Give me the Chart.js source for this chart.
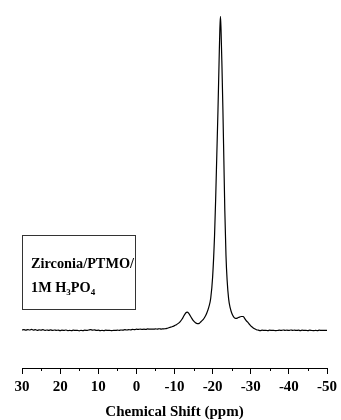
<!DOCTYPE html>
<html>
<head>
<meta charset="utf-8">
<script src="https://cdn.jsdelivr.net/npm/chart.js@4"></script>
<style>
    html, body { margin: 0; padding: 0; background: #fff; }
    #wrap { position: relative; width: 341px; height: 420px; }
    #sampleBox {
        position: absolute; left: 22px; top: 235px; width: 112px; height: 73px;
        border: 1px solid #333; color: #000;
        font: bold 14.3px "Liberation Serif", "Times New Roman", serif;
    }
    #sampleBox div { position: absolute; left: 8px; line-height: 16px; white-space: nowrap; }
    #sampleBox sub { font-size: 9px; vertical-align: -3px; line-height: 0; }
</style>
</head>
<body>
<div id="wrap">
    <canvas id="nmrChart" width="341" height="420"></canvas>
    <div id="sampleBox">
        <div style="top: 19px;">Zirconia/PTMO/</div>
        <div style="top: 43px;">1M H<sub>3</sub>PO<sub>4</sub></div>
    </div>
</div>
<script>
// chemical shift (ppm) and intensity (peak = 100)
const shiftPpm = [
    30, 29.5, 29, 28.5, 28, 27.5, 27, 26.5, 26, 25.5, 25, 24.5, 24, 23.5, 23, 22.5, 22, 21.5, 21, 20.5,
    20, 19.5, 19, 18.5, 18, 17.5, 17, 16.5, 16, 15.5, 15, 14.5, 14, 13.5, 13, 12.5, 12, 11.5, 11, 10.5,
    10, 9.5, 9, 8.5, 8, 7.5, 7, 6.5, 6, 5.5, 5, 4.5, 4, 3.5, 3, 2.5, 2, 1.5, 1, 0.5,
    0, -0.5, -1, -1.5, -2, -2.5, -3, -3.5, -4, -4.5, -5, -5.5, -6, -6.5, -7, -7.5, -8, -8.5, -9, -9.5,
    -10, -10.5, -11, -11.5, -12, -12.5, -13, -13.3, -13.7, -14, -14.5, -15, -15.5, -16, -16.5,
    -17, -17.5, -18, -18.5, -19, -19.5, -20, -20.5, -20.8, -21.1, -21.4, -21.7, -21.9, -22.05,
    -22.2, -22.45, -22.7, -22.95, -23.2, -23.5, -23.8, -24.2, -24.6, -25, -25.5, -26, -26.5,
    -27, -27.5, -28, -28.4, -28.8, -29.2, -29.6, -30, -30.5, -31, -31.5,
    -32, -32.5, -33, -33.5, -34, -34.5, -35, -35.5, -36, -36.5, -37, -37.5, -38, -38.5, -39, -39.5,
    -40, -40.5, -41, -41.5, -42, -42.5, -43, -43.5, -44, -44.5, -45, -45.5, -46, -46.5, -47, -47.5,
    -48, -48.5, -49, -49.5, -50
];
const intensity = [
    0.1, 0.2, 0.05, 0.25, 0.1, 0.3, 0.05, 0.2, 0.0, 0.15, 0.05, 0.2, -0.05, 0.1, 0.0, 0.15, -0.05, 0.1, 0.0, 0.05,
    -0.1, 0.05, -0.05, 0.1, -0.1, 0.0, -0.1, 0.05, -0.05, 0.0, -0.15, 0.0, -0.1, 0.05, -0.05, 0.1, 0.2, 0.05, 0.15, -0.05,
    0.05, -0.1, 0.0, -0.1, 0.05, -0.05, 0.0, -0.1, 0.0, -0.05, 0.05, 0.0, 0.1, 0.05, 0.2, 0.1, 0.2, 0.15, 0.3, 0.2,
    0.35, 0.3, 0.4, 0.3, 0.35, 0.3, 0.45, 0.35, 0.4, 0.35, 0.45, 0.4, 0.5, 0.4, 0.45, 0.5, 0.6, 0.8, 1.0, 1.2,
    1.5, 1.8, 2.2, 2.8, 3.6, 4.7, 5.6, 5.8, 5.5, 4.9, 3.9, 3.0, 2.4, 2.1, 2.2,
    2.8, 3.4, 4.3, 5.6, 7.4, 10.2, 17, 30, 42, 56, 70, 86, 96, 100,
    96, 84, 70, 54, 38, 24, 16, 10, 7.2, 5.5, 4.3, 3.8, 3.9,
    4.2, 4.4, 4.4, 3.8, 3.1, 2.6, 2.0, 1.4, 0.9, 0.5, 0.2,
    0.05, -0.1, 0.05, -0.05, 0.0, -0.1, 0.05, -0.05, 0.0, -0.1, -0.05, 0.05, -0.05, 0.1, 0.0, 0.05,
    -0.05, 0.1, 0.0, 0.05, -0.05, 0.05, -0.1, 0.05, -0.05, 0.0, -0.1, 0.05, -0.05, -0.1, 0.0, -0.1,
    0.05, -0.05, 0.0, -0.05, 0.0
];
const majorTicks = [30, 20, 10, 0, -10, -20, -30, -40, -50];
const minorTicks = [25, 15, 5, -5, -15, -25, -35, -45];

const serif = '"Liberation Serif", "Times New Roman", serif';

// short ticks between the labelled ones
const minorTickPlugin = {
    id: 'minorTicks',
    afterDraw(chart) {
        const xs = chart.scales.x;
        const ctx = chart.ctx;
        ctx.save();
        ctx.strokeStyle = '#000';
        ctx.lineWidth = 1;
        minorTicks.forEach(v => {
            const px = Math.round(xs.getPixelForValue(v)) + 0.5;
            ctx.beginPath();
            ctx.moveTo(px, xs.top);
            ctx.lineTo(px, xs.top + 3);
            ctx.stroke();
        });
        ctx.restore();
    }
};

const ctx = document.getElementById('nmrChart').getContext('2d');

new Chart(ctx, {
    type: 'line',
    data: {
        datasets: [{
            data: shiftPpm.map((s, i) => ({ x: s, y: intensity[i] })),
            borderColor: '#000',
            borderWidth: 1.2,
            pointRadius: 0,
            fill: false,
            cubicInterpolationMode: 'monotone'
        }]
    },
    options: {
        responsive: false,
        animation: false,
        devicePixelRatio: 1,
        layout: { padding: { left: 22, right: 10, top: 10, bottom: 0 } },
        scales: {
            x: {
                type: 'linear',
                position: 'bottom',
                min: -50,
                max: 30,
                reverse: true,
                afterBuildTicks: scale => {
                    scale.ticks = majorTicks.map(v => ({ value: v }));
                },
                afterFit: scale => { scale.height = 52; },
                grid: {
                    drawOnChartArea: false,
                    drawTicks: true,
                    tickLength: 6,
                    color: '#000',
                    tickColor: '#000'
                },
                border: { display: true, color: '#000', width: 1 },
                ticks: {
                    color: '#000',
                    font: { family: serif, size: 15, weight: 'bold' },
                    padding: 4,
                    autoSkip: false,
                    maxRotation: 0
                },
                title: {
                    display: true,
                    text: 'Chemical Shift (ppm)',
                    color: '#000',
                    font: { family: serif, size: 15, weight: 'bold', lineHeight: 1 },
                    padding: { top: 0, bottom: 0 }
                }
            },
            y: {
                display: false,
                min: -12,
                max: 102
            }
        },
        plugins: {
            legend: { display: false },
            tooltip: { enabled: false }
        }
    },
    plugins: [minorTickPlugin]
});
</script>
</body>
</html>
